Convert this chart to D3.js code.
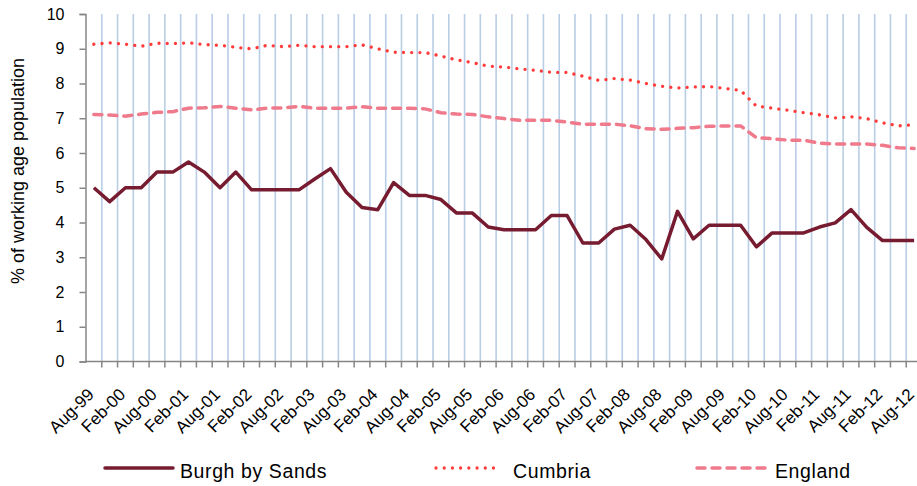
<!DOCTYPE html>
<html>
<head>
<meta charset="utf-8">
<script src="https://cdn.jsdelivr.net/npm/d3@7"></script>
<style>
body { margin: 0; background: #fff; }
text { font-family: "Liberation Sans", Arial, sans-serif; fill: #000; }
</style>
</head>
<body>
<div id="myDiv"></div>
<script>
var quarters = ["Aug-99","Nov-99","Feb-00","May-00","Aug-00","Nov-00","Feb-01","May-01","Aug-01","Nov-01",
    "Feb-02","May-02","Aug-02","Nov-02","Feb-03","May-03","Aug-03","Nov-03","Feb-04","May-04",
    "Aug-04","Nov-04","Feb-05","May-05","Aug-05","Nov-05","Feb-06","May-06","Aug-06","Nov-06",
    "Feb-07","May-07","Aug-07","Nov-07","Feb-08","May-08","Aug-08","Nov-08","Feb-09","May-09",
    "Aug-09","Nov-09","Feb-10","May-10","Aug-10","Nov-10","Feb-11","May-11","Aug-11","Nov-11",
    "Feb-12","May-12","Aug-12"];

var burgh = [5.0,4.6,5.0,5.0,5.45,5.45,5.74,5.45,5.0,5.45,
    4.94,4.94,4.94,4.94,5.25,5.55,4.87,4.43,4.37,5.15,
    4.78,4.78,4.66,4.27,4.27,3.87,3.79,3.79,3.79,4.2,
    4.2,3.41,3.41,3.81,3.92,3.51,2.95,4.32,3.53,3.92,
    3.92,3.92,3.30,3.70,3.70,3.70,3.87,3.99,4.37,3.86,
    3.48,3.48,3.48];

var cumbria = [9.13,9.17,9.13,9.07,9.16,9.15,9.17,9.12,9.10,9.04,
    9.0,9.10,9.06,9.10,9.06,9.06,9.06,9.11,9.0,8.90,
    8.89,8.89,8.79,8.68,8.60,8.50,8.47,8.42,8.38,8.32,
    8.32,8.21,8.09,8.14,8.10,8.0,7.92,7.87,7.90,7.91,
    7.86,7.80,7.35,7.29,7.23,7.16,7.10,7.01,7.04,6.99,
    6.87,6.78,6.81];

var england = [7.11,7.09,7.06,7.12,7.17,7.19,7.29,7.30,7.34,7.29,
    7.24,7.29,7.30,7.34,7.29,7.29,7.29,7.33,7.29,7.29,
    7.29,7.27,7.16,7.12,7.11,7.04,6.99,6.94,6.94,6.94,
    6.89,6.83,6.83,6.83,6.78,6.70,6.68,6.71,6.73,6.77,
    6.78,6.78,6.44,6.41,6.37,6.37,6.28,6.26,6.26,6.26,
    6.22,6.15,6.13];

var yTicks = [0,1,2,3,4,5,6,7,8,9,10];
var seriesNames = ["Burgh by Sands", "Cumbria", "England"];

var svg = d3.select("#myDiv").append("svg")
    .attr("width", 917)
    .attr("height", 486);

var x = d3.scaleBand()
    .domain(quarters)
    .range([86, 922]);

var y = d3.scaleLinear()
    .domain([0, 10])
    .range([361.5, 14]);

var cx = function(d){ return x(d) + x.bandwidth() / 2; };

// vertical gridlines on the category boundaries
svg.append("g").selectAll("line")
    .data(quarters)
    .enter()
    .append("line")
    .attr("x1", function(d){ return x(d) + x.bandwidth(); })
    .attr("x2", function(d){ return x(d) + x.bandwidth(); })
    .attr("y1", y(10))
    .attr("y2", y(0))
    .attr("stroke", "#b9cde5")
    .attr("stroke-width", 1.6);

// y axis
var yAxis = svg.append("g")
    .attr("transform", "translate(85.5,0)")
    .call(d3.axisLeft(y).tickValues(yTicks).tickSize(6).tickPadding(15).tickFormat(d3.format("d")));
yAxis.select(".domain").attr("stroke", "#868686").attr("stroke-width", 1.5);
yAxis.selectAll(".tick line").attr("stroke", "#868686").attr("stroke-width", 1.5);
yAxis.selectAll(".tick text").attr("font-size", 16).attr("font-family", "Liberation Sans, Arial, sans-serif");

// x axis: tick on every category boundary, label every other category
var xAxisG = svg.append("g");
xAxisG.append("line")
    .attr("x1", 85).attr("x2", 922)
    .attr("y1", y(0)).attr("y2", y(0))
    .attr("stroke", "#868686")
    .attr("stroke-width", 1.5);
xAxisG.selectAll(".xt")
    .data(quarters)
    .enter()
    .append("line")
    .attr("class", "xt")
    .attr("x1", function(d){ return x(d) + x.bandwidth(); })
    .attr("x2", function(d){ return x(d) + x.bandwidth(); })
    .attr("y1", y(0))
    .attr("y2", y(0) + 6)
    .attr("stroke", "#868686")
    .attr("stroke-width", 1.5);

xAxisG.selectAll(".xl")
    .data(quarters.filter(function(d, i){ return i % 2 == 0; }))
    .enter()
    .append("text")
    .attr("class", "xl")
    .attr("transform", function(d){ return "translate(" + (cx(d) + 1) + "," + (y(0) + 34) + ") rotate(-45)"; })
    .attr("text-anchor", "end")
    .attr("font-size", 17)
    .text(function(d){ return d; });

// y axis title
svg.append("text")
    .attr("transform", "translate(24,171) rotate(-90)")
    .attr("text-anchor", "middle")
    .attr("font-size", 18)
    .text("% of working age population");

var line = function(vals){
    return d3.line()
        .x(function(d, i){ return cx(quarters[i]); })
        .y(function(d){ return y(d); })(vals);
};

svg.append("path")
    .attr("d", line(england))
    .attr("fill", "none")
    .attr("stroke", "#ef7a8c")
    .attr("stroke-width", 3.5)
    .attr("stroke-dasharray", "8,7")
    .attr("stroke-linecap", "round");

svg.append("path")
    .attr("d", line(cumbria))
    .attr("fill", "none")
    .attr("stroke", "#ff3b3b")
    .attr("stroke-width", 3.3)
    .attr("stroke-dasharray", "0.01,8.2")
    .attr("stroke-linecap", "round");

svg.append("path")
    .attr("d", line(burgh))
    .attr("fill", "none")
    .attr("stroke", "#771b30")
    .attr("stroke-width", 3.5)
    .attr("stroke-linejoin", "round");

// legend
var legend = [
    {name: seriesNames[0], x1: 105, x2: 173, tx: 180, color: "#771b30", dash: null, w: 3.5},
    {name: seriesNames[1], x1: 436, x2: 497, tx: 513, color: "#ff3b3b", dash: "0.01,8.2", w: 3.3},
    {name: seriesNames[2], x1: 697, x2: 765, tx: 775, color: "#ef7a8c", dash: "8,7", w: 3.5}
];

svg.selectAll(".lg")
    .data(legend)
    .enter()
    .append("line")
    .attr("class", "lg")
    .attr("x1", function(d){ return d.x1; })
    .attr("x2", function(d){ return d.x2; })
    .attr("y1", 468)
    .attr("y2", 468)
    .attr("stroke", function(d){ return d.color; })
    .attr("stroke-width", function(d){ return d.w; })
    .attr("stroke-dasharray", function(d){ return d.dash; })
    .attr("stroke-linecap", "round");

svg.selectAll(".lt")
    .data(legend)
    .enter()
    .append("text")
    .attr("class", "lt")
    .attr("x", function(d){ return d.tx; })
    .attr("y", 478)
    .attr("font-size", 19.5)
    .attr("letter-spacing", 0.6)
    .text(function(d){ return d.name; });
</script>
</body>
</html>
